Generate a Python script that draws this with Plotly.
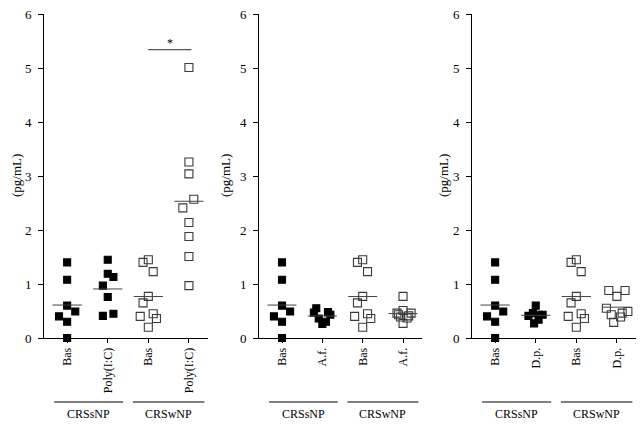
import plotly.graph_objects as go

# ---------------- data ----------------
y_ticks = [0, 1, 2, 3, 4, 5, 6]
group_labels = ["CRSsNP", "CRSwNP"]
panel_ticks = [
    ["Bas", "Poly(I:C)", "Bas", "Poly(I:C)"],
    ["Bas", "A.f.", "Bas", "A.f."],
    ["Bas", "D.p.", "Bas", "D.p."],
]

bas_s = [1.40, 1.08, 0.60, 0.40, 0.49, 0.30, 0.00]
bas_s_jit = [0, 0, 0, -0.2, 0.2, 0, 0]
bas_w = [1.40, 1.45, 1.23, 0.77, 0.65, 0.40, 0.45, 0.36, 0.20]
bas_w_jit = [-0.13, 0.0, 0.12, 0.0, -0.13, -0.2, 0.12, 0.2, 0.0]

polyic_s = [1.45, 1.19, 1.13, 0.97, 0.76, 0.41, 0.45]
polyic_s_jit = [0, 0, 0.14, -0.12, 0, -0.12, 0.14]
polyic_w = [5.01, 3.26, 3.04, 2.57, 2.41, 2.14, 1.88, 1.51, 0.97]
polyic_w_jit = [0, 0, 0, 0.12, -0.15, 0, 0, 0, 0]

af_s = [0.55, 0.47, 0.36, 0.26, 0.48, 0.43, 0.30]
af_s_jit = [-0.15, -0.21, -0.09, 0.0, 0.14, 0.2, 0.09]
af_w = [0.77, 0.46, 0.51, 0.46, 0.39, 0.37, 0.27, 0.41, 0.43]
af_w_jit = [0.0, -0.15, 0.0, 0.2, -0.06, 0.1, 0.0, 0.14, -0.11]

dp_s = [0.60, 0.41, 0.46, 0.43, 0.43, 0.27, 0.34]
dp_s_jit = [0.0, -0.18, -0.07, 0.08, 0.17, -0.04, 0.07]
dp_w = [0.88, 0.77, 0.88, 0.55, 0.43, 0.39, 0.46, 0.49, 0.29]
dp_w_jit = [-0.2, 0.0, 0.2, -0.26, -0.14, 0.09, 0.13, 0.27, -0.08]

panels = [
    [(bas_s, bas_s_jit), (polyic_s, polyic_s_jit), (bas_w, bas_w_jit), (polyic_w, polyic_w_jit)],
    [(bas_s, bas_s_jit), (af_s, af_s_jit), (bas_w, bas_w_jit), (af_w, af_w_jit)],
    [(bas_s, bas_s_jit), (dp_s, dp_s_jit), (bas_w, bas_w_jit), (dp_w, dp_w_jit)],
]

sig_x = [2.0, 3.06]
sig_y = [5.34, 5.34]
sig_label = "*"

# ---------------- layout helpers ----------------
W, H = 642, 426
domains = [(44 / W, 208 / W), (259 / W, 422 / W), (472 / W, 636 / W)]
xrange_ = [-0.57, 3.47]
ytitle_x = [16 / W, 225 / W, 443 / W]
FONT = "Liberation Serif, Times New Roman, serif"
open_col = "#3a3a3a"

fig = go.Figure()
layout = dict(
    width=W, height=H,
    margin=dict(l=0, r=0, t=14, b=88),
    paper_bgcolor="white", plot_bgcolor="white",
    showlegend=False,
    font=dict(family=FONT, size=12, color="black"),
)
shapes = []
annotations = []

for p, groups in enumerate(panels):
    xa = "x" if p == 0 else f"x{p + 1}"
    ya = "y" if p == 0 else f"y{p + 1}"
    for c, (vals, jit) in enumerate(groups):
        filled = c < 2
        fig.add_trace(go.Scatter(
            x=[c + j for j in jit], y=vals, mode="markers",
            xaxis=xa, yaxis=ya, cliponaxis=False,
            marker=dict(symbol="square" if filled else "square-open",
                        size=7 if filled else 8,
                        color="black" if filled else open_col,
                        line=dict(width=1.1, color="black" if filled else open_col)),
        ))
        m = sum(vals) / len(vals)
        fig.add_trace(go.Scatter(
            x=[c - 0.36, c + 0.36], y=[m, m], mode="lines",
            xaxis=xa, yaxis=ya, cliponaxis=False,
            line=dict(color="#444444", width=1),
        ))
    if p == 0:
        fig.add_trace(go.Scatter(x=sig_x, y=sig_y, mode="lines", xaxis=xa, yaxis=ya,
                                 cliponaxis=False, line=dict(color="#555555", width=1.2)))
        annotations.append(dict(x=sum(sig_x) / 2, y=sig_y[0], xref=xa, yref=ya,
                                text=sig_label, showarrow=False, yanchor="bottom",
                                yshift=-2, font=dict(size=12, family=FONT, color="black")))

    key = "xaxis" if p == 0 else f"xaxis{p + 1}"
    ykey = "yaxis" if p == 0 else f"yaxis{p + 1}"
    layout[key] = dict(
        domain=list(domains[p]), range=xrange_, anchor=ya,
        tickmode="array", tickvals=[0, 1, 2, 3], ticktext=panel_ticks[p],
        tickangle=-90, ticks="outside", ticklen=4, tickcolor="black",
        showline=True, linecolor="black", linewidth=1,
        showgrid=False, zeroline=False, fixedrange=True,
        tickfont=dict(family=FONT, size=12, color="black"),
    )
    layout[ykey] = dict(
        domain=[0, 1], range=[0, 6], anchor=xa,
        tickmode="array", tickvals=y_ticks,
        ticks="outside", ticklen=5, tickcolor="black",
        ticklabelstandoff=4,
        showline=True, linecolor="black", linewidth=1,
        showgrid=False, zeroline=False, fixedrange=True,
        tickfont=dict(family=FONT, size=13, color="black"),
    )
    annotations.append(dict(x=ytitle_x[p], y=0.5, xref="paper", yref="paper",
                            xanchor="center", yanchor="middle",
                            text="(pg/mL)", textangle=-90, showarrow=False,
                            font=dict(family=FONT, size=13, color="black")))
    # group lines & labels
    line_y = (338 - 402) / 324
    text_y = (338 - 414) / 324
    for g, (x0, x1) in enumerate([(-0.32, 1.38), (1.62, 3.38)]):
        shapes.append(dict(type="line", xref=xa, yref="paper", x0=x0, x1=x1,
                           y0=line_y, y1=line_y, line=dict(color="black", width=1)))
        annotations.append(dict(x=(x0 + x1) / 2, y=text_y, xref=xa, yref="paper",
                                xanchor="center", yanchor="middle",
                                text=group_labels[g], showarrow=False,
                                font=dict(family=FONT, size=12, color="black")))

layout["shapes"] = shapes
layout["annotations"] = annotations
fig.update_layout(**layout)
fig.write_html("out.html", config={"displayModeBar": False},
               post_script="document.body.style.margin='0';document.body.style.overflow='hidden';")
